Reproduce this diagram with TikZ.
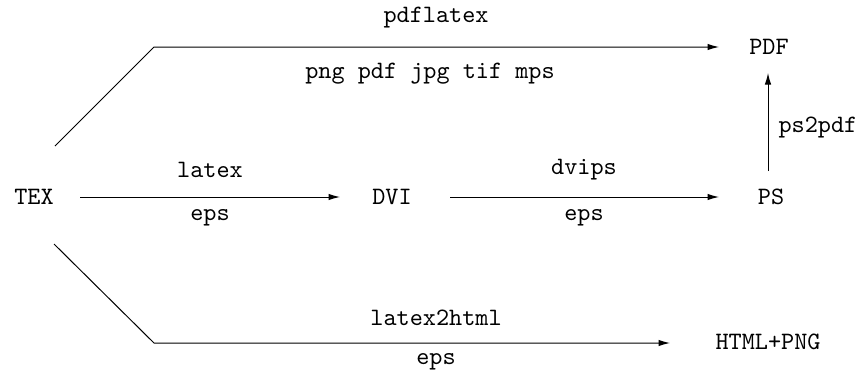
\documentclass[tikz,border=0pt]{standalone}
\usetikzlibrary{arrows.meta}
\begin{document}
\begin{tikzpicture}[x=0.4pt,y=-0.4pt,
  lbl/.style={font=\ttfamily\fontsize{10}{12}\selectfont, inner sep=0pt},
  conn/.style={line width=0.4pt, -{Latex[length=4.6pt,width=2.6pt]}},
  plain/.style={line width=0.4pt}]
\useasboundingbox (0,0) rectangle (859,373);
\node[lbl] (tex) at (34,197) {TEX};
\node[lbl] (dvi) at (392,197) {DVI};
\node[lbl] (ps) at (771,197) {PS};
\node[lbl] (pdf) at (769,47) {PDF};
\node[lbl] (html) at (768,342) {HTML+PNG};
\coordinate (t0) at (55,146);
\coordinate (t1) at (154,47);
\coordinate (t2) at (719,47);
\coordinate (b0) at (54,244);
\coordinate (b1) at (154,343);
\coordinate (b2) at (670,343);
\coordinate (l0) at (80,197);
\coordinate (l1) at (340,197);
\coordinate (d0) at (450,197);
\coordinate (d1) at (719,197);
\coordinate (p0) at (768,171);
\coordinate (p1) at (768,73);
\draw[conn] (t0) -- (t1) -- (t2);
\draw[conn] (b0) -- (b1) -- (b2);
\draw[conn] (l0) -- (l1);
\draw[conn] (d0) -- (d1);
\draw[conn] (p0) -- (p1);
\node[lbl] (a1) at (210,170) {latex};
\node[lbl] (a2) at (210,218) {eps};
\node[lbl] (a3) at (584,170) {dvips};
\node[lbl] (a4) at (584,218) {eps};
\node[lbl, anchor=west] (a5) at (778,127) {ps2pdf};
\node[lbl] (a6) at (436,18) {pdflatex};
\node[lbl] (a7) at (430,74) {png pdf jpg tif mps};
\node[lbl] (a8) at (436,318) {latex2html};
\node[lbl] (a9) at (436,362) {eps};
\end{tikzpicture}
\end{document}
